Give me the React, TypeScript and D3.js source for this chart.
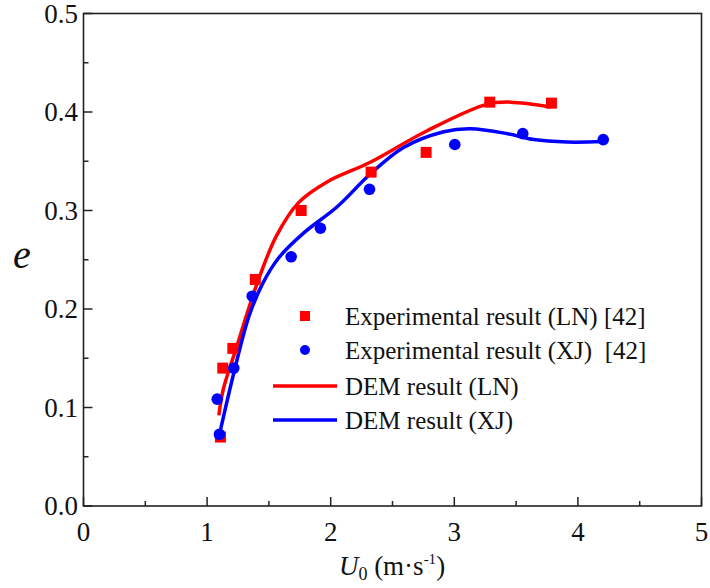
import React from "react";
import * as d3 from "d3";

const lnExpX = [1.108, 1.127, 1.208, 1.39, 1.761, 2.327, 2.772, 3.287, 3.786];
const lnExpY = [0.07, 0.14, 0.16, 0.23, 0.3, 0.339, 0.359, 0.41, 0.409];

const xjExpX = [1.082, 1.1, 1.216, 1.365, 1.68, 1.917, 2.314, 3.004, 3.554, 4.205];
const xjExpY = [0.1085, 0.0727, 0.14, 0.213, 0.253, 0.282, 0.3215, 0.367, 0.378, 0.372];

const lnDemX = [1.095, 1.13, 1.23, 1.405, 1.56, 1.74, 1.97, 2.32, 2.78, 3.266, 3.455, 3.786];
const lnDemY = [0.092, 0.118, 0.158, 0.226, 0.274, 0.308, 0.329, 0.349, 0.381, 0.408, 0.41, 0.405];

const xjDemX = [1.108, 1.216, 1.337, 1.446, 1.58, 1.78, 2.05, 2.32, 2.59, 2.915, 3.13, 3.43, 3.643, 3.913, 4.207];
const xjDemY = [0.077, 0.135, 0.192, 0.225, 0.252, 0.277, 0.3035, 0.337, 0.364, 0.38, 0.383, 0.378, 0.372, 0.3695, 0.37];

const xTicks = [0, 1, 2, 3, 4, 5];
const yTicks = [0, 0.1, 0.2, 0.3, 0.4, 0.5];

const legendLabels = [
  "Experimental result (LN) [42]",
  "Experimental result (XJ)  [42]",
  "DEM result (LN)",
  "DEM result (XJ)",
];

const RED = "#ff0000";
const BLUE = "#0000ff";
const FONT = '"Liberation Serif", "Times New Roman", serif';

export default function App() {
  const W = 710, H = 588;
  const L = 83.5, R = 701.5, T = 13.5, B = 506;
  const x = d3.scaleLinear().domain([0, 5]).range([L, R]);
  const y = d3.scaleLinear().domain([0, 0.5]).range([B, T]);

  const line = d3
    .line<[number, number]>()
    .x((d) => x(d[0]))
    .y((d) => y(d[1]))
    .curve(d3.curveCatmullRom.alpha(0.5));

  const lnLine = line(lnDemX.map((v, i) => [v, lnDemY[i]]) as [number, number][]) || "";
  const xjLine = line(xjDemX.map((v, i) => [v, xjDemY[i]]) as [number, number][]) || "";

  const xMinor = d3.range(0.5, 5, 1);
  const yMinor = d3.range(0.05, 0.5, 0.1);

  const sq = 11;
  const rad = 5.8;

  const legX = 305;
  const legTextX = 345;
  const legRows = [316, 350, 386, 420];

  return (
    <svg
      width={W}
      height={H}
      style={{ position: "absolute", left: 0, top: 0, background: "#fff", fontFamily: FONT }}
    >
      <rect x={0} y={0} width={W} height={H} fill="#fff" />
      <path d={lnLine} fill="none" stroke={RED} strokeWidth={3.5} />
      <path d={xjLine} fill="none" stroke={BLUE} strokeWidth={3.5} />
      {lnExpX.map((v, i) => (
        <rect
          key={"ln" + i}
          x={x(v) - sq / 2}
          y={y(lnExpY[i]) - sq / 2}
          width={sq}
          height={sq}
          fill={RED}
        />
      ))}
      {xjExpX.map((v, i) => (
        <circle key={"xj" + i} cx={x(v)} cy={y(xjExpY[i])} r={rad} fill={BLUE} />
      ))}

      <rect x={L} y={T} width={R - L} height={B - T} fill="none" stroke="#222" strokeWidth={1.6} />

      {xTicks.map((t) => (
        <g key={"xt" + t}>
          <line x1={x(t)} x2={x(t)} y1={B} y2={B - 9} stroke="#222" strokeWidth={1.5} />
          <text x={x(t)} y={541} textAnchor="middle" fontSize={27} fill="#111">
            {t}
          </text>
        </g>
      ))}
      {xMinor.map((t) => (
        <line key={"xm" + t} x1={x(t)} x2={x(t)} y1={B} y2={B - 5} stroke="#222" strokeWidth={1.5} />
      ))}
      {yTicks.map((t) => (
        <g key={"yt" + t}>
          <line x1={L} x2={L + 9} y1={y(t)} y2={y(t)} stroke="#222" strokeWidth={1.5} />
          <text x={78} y={y(t) + 9} textAnchor="end" fontSize={27} fill="#111">
            {t.toFixed(1)}
          </text>
        </g>
      ))}
      {yMinor.map((t) => (
        <line key={"ym" + t} x1={L} x2={L + 5} y1={y(t)} y2={y(t)} stroke="#222" strokeWidth={1.5} />
      ))}

      <text x={392} y={575} textAnchor="middle" fontSize={27} fill="#111">
        <tspan fontStyle="italic">U</tspan>
        <tspan fontSize={18} dy={5}>0</tspan>
        <tspan dy={-5}> (m·s</tspan>
        <tspan fontSize={15} dy={-11}>-1</tspan>
        <tspan dy={11}>)</tspan>
      </text>
      <text x={22} y={268} textAnchor="middle" fontSize={40} fontStyle="italic" fill="#111">
        e
      </text>

      <rect x={legX - 5} y={legRows[0] - 5} width={10} height={10} fill={RED} />
      <circle cx={legX} cy={legRows[1]} r={5} fill={BLUE} />
      <line x1={273} x2={337} y1={legRows[2]} y2={legRows[2]} stroke={RED} strokeWidth={3.5} />
      <line x1={273} x2={337} y1={legRows[3]} y2={legRows[3]} stroke={BLUE} strokeWidth={3.5} />
      {legendLabels.map((s, i) => (
        <text
          key={"lg" + i}
          x={legTextX}
          y={legRows[i] + 9}
          fontSize={25}
          fill="#111"
          style={{ whiteSpace: "pre" }}
        >
          {s}
        </text>
      ))}
    </svg>
  );
}
